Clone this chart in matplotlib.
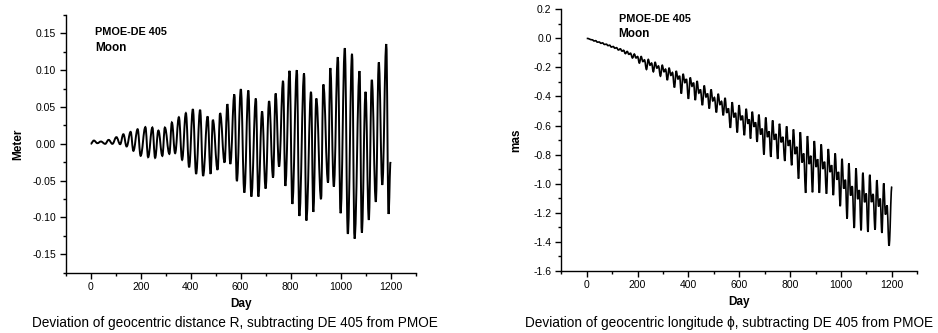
import matplotlib
matplotlib.use("Agg")
import matplotlib.pyplot as plt
from matplotlib.path import Path
from matplotlib.patches import PathPatch
from matplotlib.ticker import MultipleLocator, FormatStrFormatter

plt.rcParams['font.family'] = ['Liberation Sans', 'DejaVu Sans']
plt.rcParams['axes.unicode_minus'] = False

# Left panel: turning points of R deviation (day, meter)
r_days = [0, 13, 27, 41, 58, 72, 87, 103, 118, 131, 144, 160, 171, 188, 200,
          219, 230, 247, 258, 271, 287, 297, 315, 325, 338, 353, 366, 381, 394,
          409, 422, 438, 450, 468, 480, 489, 508, 518, 536, 547, 559, 575, 585,
          601, 615, 631, 643, 661, 671, 686, 700, 714, 730, 740, 754, 770, 779,
          796, 807, 825, 835, 854, 863, 882, 891, 903, 922, 931, 950, 959, 973,
          989, 1000, 1017, 1029, 1046, 1056, 1076, 1085, 1100, 1113, 1125, 1141,
          1153, 1167, 1183, 1192, 1200]
r_vals = [0.0, 0.0045, 0.0009, 0.0032, 0.0, 0.0054, 0.0, 0.0091, -0.0005,
          0.0131, -0.0036, 0.0163, -0.0095, 0.0199, -0.0163, 0.0227, -0.0181,
          0.0222, -0.019, 0.0181, -0.0163, 0.0222, -0.0136, 0.029, -0.0127,
          0.0362, -0.0217, 0.0417, -0.0317, 0.0471, -0.0408, 0.0462, -0.0435,
          0.0372, -0.0408, 0.0326, -0.0353, 0.0417, -0.0254, 0.0539, -0.0272,
          0.0671, -0.0507, 0.0743, -0.0662, 0.0725, -0.0716, 0.0616, -0.0716,
          0.044, -0.0607, 0.058, -0.0458, 0.0684, -0.0308, 0.0856, -0.0571,
          0.0992, -0.0816, 0.1001, -0.0979, 0.0956, -0.1042, 0.0707, -0.0924,
          0.0616, -0.0752, 0.0807, -0.0526, 0.1029, -0.058, 0.1178, -0.0942,
          0.130, -0.1223, 0.1223, -0.1287, 0.0988, -0.1205, 0.0707, -0.1033,
          0.087, -0.0788, 0.1106, -0.0557, 0.1355, -0.0952, -0.0245]

# Right panel: turning points of longitude deviation (day, mas)
# each lunar cycle: peak, shallow dip, bump, deep trough
phi_days = [0,
            22, 29, 35, 42, 49, 56, 62, 70, 77, 84, 90, 97, 104, 111, 117, 125,
            132, 139, 145, 152, 159, 166, 172, 180, 187, 194, 200, 207,
            214, 221, 227, 235, 242, 249, 255, 262, 269, 276, 282, 290,
            297, 304, 310, 317, 324, 331, 337, 345, 352, 359, 365, 372,
            379, 386, 392, 400, 407, 414, 420, 427, 434, 441, 447, 455,
            462, 469, 475, 482, 489, 496, 502, 510, 517, 524, 530, 537,
            544, 551, 557, 565, 572, 579, 585, 592, 599, 606, 612, 620,
            627, 634, 639, 644, 651, 658, 664, 670, 677, 684, 690, 697,
            704, 711, 717, 724, 731, 738, 744, 751, 758, 765, 771, 779,
            786, 793, 799, 806, 813, 820, 826, 833, 840, 847, 853, 861,
            868, 875, 881, 888, 895, 902, 908, 915, 922, 929, 935, 943,
            950, 957, 963, 970, 977, 984, 990, 997, 1004, 1011, 1017, 1024,
            1031, 1038, 1044, 1052, 1059, 1066, 1072, 1079, 1086, 1093, 1099, 1106,
            1113, 1120, 1126, 1134, 1141, 1148, 1154, 1161, 1168, 1175, 1181, 1189,
            1200]
phi_vals = [0.0,
            -0.010, -0.018, -0.016, -0.026, -0.025, -0.034, -0.031, -0.042,
            -0.040, -0.050, -0.047, -0.060, -0.056, -0.068, -0.064, -0.080,
            -0.072, -0.088, -0.082, -0.105, -0.090, -0.110, -0.102, -0.135,
            -0.108, -0.135, -0.125, -0.170, -0.125, -0.160, -0.148, -0.214,
            -0.145, -0.185, -0.170, -0.230, -0.165, -0.205, -0.190, -0.260,
            -0.185, -0.230, -0.212, -0.287, -0.205, -0.255, -0.235, -0.338,
            -0.225, -0.280, -0.258, -0.380, -0.245, -0.305, -0.280, -0.416,
            -0.270, -0.330, -0.305, -0.425, -0.294, -0.377, -0.352, -0.460,
            -0.325, -0.404, -0.380, -0.483, -0.352, -0.431, -0.407, -0.510,
            -0.382, -0.456, -0.434, -0.530, -0.410, -0.513, -0.482, -0.616,
            -0.440, -0.544, -0.513, -0.648, -0.460, -0.563, -0.532, -0.667,
            -0.485, -0.588, -0.557, -0.690, -0.505, -0.609, -0.578, -0.713,
            -0.525, -0.662, -0.621, -0.800, -0.545, -0.680, -0.640, -0.816,
            -0.565, -0.698, -0.658, -0.830, -0.588, -0.716, -0.678, -0.844,
            -0.606, -0.740, -0.700, -0.874, -0.627, -0.797, -0.746, -0.966,
            -0.646, -0.855, -0.792, -1.064, -0.673, -0.866, -0.808, -1.060,
            -0.707, -0.886, -0.832, -1.064, -0.730, -0.900, -0.849, -1.070,
            -0.762, -0.921, -0.873, -1.080, -0.792, -0.974, -0.919, -1.156,
            -0.829, -1.035, -0.973, -1.241, -0.861, -1.083, -1.017, -1.306,
            -0.895, -1.108, -1.044, -1.322, -0.925, -1.129, -1.068, -1.333,
            -0.939, -1.128, -1.071, -1.317, -0.976, -1.158, -1.103, -1.340,
            -0.998, -1.213, -1.150, -1.428,
            -1.020]

label_font = dict(fontsize=8.5, fontweight='bold')


def smooth_line(ax, xs, ys, **kw):
    # rounded curve through the turning points (flat tangent at each extremum)
    verts = [(xs[0], ys[0])]
    codes = [Path.MOVETO]
    for i in range(1, len(xs)):
        dx = xs[i] - xs[i - 1]
        verts += [(xs[i - 1] + 0.4 * dx, ys[i - 1]),
                  (xs[i] - 0.4 * dx, ys[i]),
                  (xs[i], ys[i])]
        codes += [Path.CURVE4] * 3
    ax.add_patch(PathPatch(Path(verts, codes), fill=False, **kw))


def style_axes(ax):
    for side in ['top', 'right']:
        ax.spines[side].set_visible(False)
    for side in ['left', 'bottom']:
        ax.spines[side].set_linewidth(1.0)
    ax.tick_params(which='major', direction='out', length=4, width=1, labelsize=7.5, pad=3)
    ax.tick_params(which='minor', direction='out', length=2.5, width=1)
    ax.set_xlim(-100, 1300)
    ax.xaxis.set_minor_locator(MultipleLocator(100))
    ax.set_xticks([0, 200, 400, 600, 800, 1000, 1200])
    ax.set_xlabel('Day', **label_font, labelpad=4)


fig = plt.figure(figsize=(9.38, 3.33), dpi=100)

ax1 = fig.add_axes([0.070, 0.181, 0.373, 0.774])
smooth_line(ax1, r_days, r_vals, edgecolor='black', lw=1.4)
style_axes(ax1)
ax1.set_ylim(-0.175, 0.175)
ax1.yaxis.set_major_locator(MultipleLocator(0.05))
ax1.yaxis.set_minor_locator(MultipleLocator(0.025))
ax1.yaxis.set_major_formatter(FormatStrFormatter('%.2f'))
ax1.set_ylabel('Meter', **label_font, labelpad=6)
ax1.text(17, 0.152, 'PMOE-DE 405', fontsize=7.8, fontweight='bold', va='center')
ax1.text(17, 0.130, 'Moon', fontsize=8.5, fontweight='bold', va='center')

ax2 = fig.add_axes([0.5984, 0.187, 0.3795, 0.785])
smooth_line(ax2, phi_days, phi_vals, edgecolor='black', lw=1.2)
style_axes(ax2)
ax2.set_ylim(-1.6, 0.2)
ax2.yaxis.set_major_locator(MultipleLocator(0.2))
ax2.yaxis.set_minor_locator(MultipleLocator(0.1))
ax2.yaxis.set_major_formatter(FormatStrFormatter('%.1f'))
ax2.set_ylabel('mas', **label_font, labelpad=8)
ax2.text(125, 0.133, 'PMOE-DE 405', fontsize=7.8, fontweight='bold', va='center')
ax2.text(125, 0.030, 'Moon', fontsize=8.5, fontweight='bold', va='center')

fig.text(235 / 938, 1 - 323 / 333,
         'Deviation of geocentric distance R, subtracting DE 405 from PMOE',
         ha='center', va='center', fontsize=9.8)
fig.text(729 / 938, 1 - 323 / 333,
         'Deviation of geocentric longitude \u03d5, subtracting DE 405 from PMOE',
         ha='center', va='center', fontsize=9.8)

fig.savefig('out.png', dpi=100)
